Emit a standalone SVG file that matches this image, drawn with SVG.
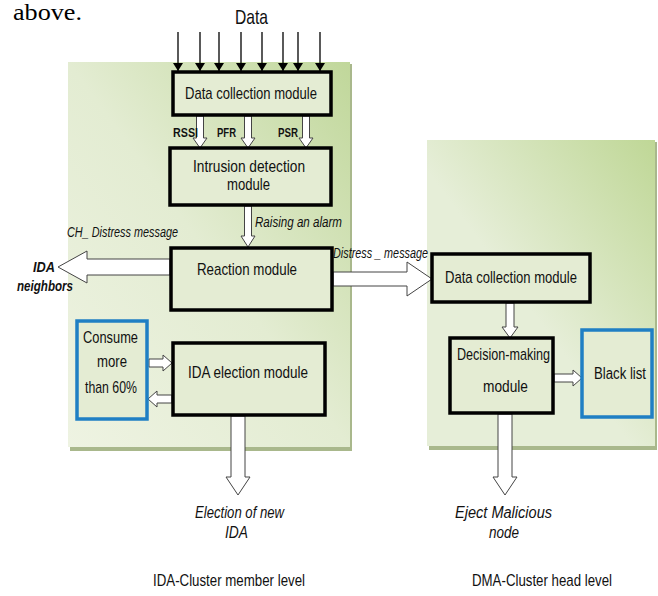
<svg xmlns="http://www.w3.org/2000/svg" width="658" height="596" viewBox="0 0 658 596">
<defs>
<linearGradient id="panelL" x1="0" y1="1" x2="1" y2="0">
<stop offset="0" stop-color="#eef3e2"/>
<stop offset="0.5" stop-color="#e3ecd2"/>
<stop offset="1" stop-color="#c0d79a"/>
</linearGradient>
<linearGradient id="panelR" x1="0" y1="1" x2="1" y2="0">
<stop offset="0" stop-color="#e6eed8"/>
<stop offset="0.45" stop-color="#e6eed8"/>
<stop offset="1" stop-color="#bfd796"/>
</linearGradient>
<marker id="ah" viewBox="0 0 8 10" refX="8" refY="5" markerWidth="8" markerHeight="10" markerUnits="userSpaceOnUse" orient="auto">
<path d="M0,0 L8,5 L0,10 Z" fill="#000"/>
</marker>
</defs>
<style>
.panel-shadow{fill:#a9b88c}
.box{fill:#e4ecd3;stroke:#000;stroke-width:3.5}
.bbox{fill:#e4ecd3;stroke:#1f7fc4;stroke-width:3.5}
.t{font-family:"Liberation Sans",Arial,sans-serif;font-size:17px;fill:#111}
.lab{font-family:"Liberation Sans",Arial,sans-serif;font-size:13px;font-weight:bold;fill:#111}
.it{font-family:"Liberation Sans",Arial,sans-serif;font-size:14px;font-style:italic;fill:#111}
.bi{font-family:"Liberation Sans",Arial,sans-serif;font-size:15px;font-style:italic;font-weight:bold;fill:#111}
.it2{font-family:"Liberation Sans",Arial,sans-serif;font-size:16px;font-style:italic;fill:#111}
.serif{font-family:"Liberation Serif","Times New Roman",serif;font-size:24px;fill:#000}
.hollow{fill:#fff;stroke:#444;stroke-width:1}
.data{stroke:#000;stroke-width:1.3;fill:none}
</style>
<rect width="658" height="596" fill="#fff"/>
<text class="serif" x="13" y="20" textLength="69" lengthAdjust="spacingAndGlyphs">above.</text>

<g id="panel-left">
<rect class="panel-shadow" x="70" y="64" width="282" height="387"/>
<rect x="68" y="62" width="282" height="385" fill="url(#panelL)"/>
</g>
<g id="panel-right">
<rect class="panel-shadow" x="429" y="142" width="228" height="308"/>
<rect x="427" y="140" width="228" height="306" fill="url(#panelR)"/>
</g>

<g id="connectors">
<line class="data" x1="178" y1="32" x2="178" y2="71" marker-end="url(#ah)"/>
<line class="data" x1="200" y1="32" x2="200" y2="71" marker-end="url(#ah)"/>
<line class="data" x1="219" y1="32" x2="219" y2="71" marker-end="url(#ah)"/>
<line class="data" x1="241" y1="32" x2="241" y2="71" marker-end="url(#ah)"/>
<line class="data" x1="262" y1="32" x2="262" y2="71" marker-end="url(#ah)"/>
<line class="data" x1="283" y1="32" x2="283" y2="71" marker-end="url(#ah)"/>
<line class="data" x1="298" y1="32" x2="298" y2="71" marker-end="url(#ah)"/>
<line class="data" x1="320" y1="32" x2="320" y2="71" marker-end="url(#ah)"/>
<path class="hollow" d="M196.5,116 L203.5,116 L203.5,138 L207,138 L200,148 L193,138 L196.5,138 Z"/>
<path class="hollow" d="M244.5,116 L251.5,116 L251.5,138 L255,138 L248,148 L241,138 L244.5,138 Z"/>
<path class="hollow" d="M302.5,116 L309.5,116 L309.5,138 L313,138 L306,148 L299,138 L302.5,138 Z"/>
<path class="hollow" d="M244.5,206 L251.5,206 L251.5,236 L255,236 L248,247 L241,236 L244.5,236 Z"/>
<path class="hollow" d="M170,259 L87,259 L87,251 L58,267 L87,283 L87,275 L170,275 Z"/>
<path class="hollow" d="M333,272 L407,272 L407,262 L432,279 L407,296 L407,286 L333,286 Z"/>
<path class="hollow" d="M149,359 L163,359 L163,355 L172,363 L163,371 L163,367 L149,367 Z"/>
<path class="hollow" d="M172,395 L157,395 L157,391 L148,399 L157,407 L157,403 L172,403 Z"/>
<path class="hollow" d="M231,416 L245,416 L245,477 L250,477 L238,495 L226,477 L231,477 Z"/>
<path class="hollow" d="M506,303 L514,303 L514,327 L518,327 L510,338 L502,327 L506,327 Z"/>
<path class="hollow" d="M554,374 L573,374 L573,370 L582,378 L573,386 L573,382 L554,382 Z"/>
<path class="hollow" d="M498,414 L512,414 L512,477 L517,477 L505,495 L493,477 L498,477 Z"/>
</g>

<text class="t" x="235" y="24" style="font-size:21px" textLength="33" lengthAdjust="spacingAndGlyphs">Data</text>

<g id="dcm-left">
<rect class="box" x="173" y="72" width="158" height="43"/>
<text class="t" x="185" y="99" textLength="132" lengthAdjust="spacingAndGlyphs">Data collection module</text>
</g>
<text class="lab" x="173" y="137" textLength="25" lengthAdjust="spacingAndGlyphs">RSSI</text>
<text class="lab" x="217" y="137" textLength="19" lengthAdjust="spacingAndGlyphs">PFR</text>
<text class="lab" x="278" y="137" textLength="20" lengthAdjust="spacingAndGlyphs">PSR</text>

<g id="intrusion">
<rect class="box" x="170" y="148" width="161" height="57"/>
<text class="t" x="193" y="172" textLength="112" lengthAdjust="spacingAndGlyphs">Intrusion detection</text>
<text class="t" x="227" y="190" textLength="43" lengthAdjust="spacingAndGlyphs">module</text>
</g>
<text class="it" x="255" y="227" textLength="87" lengthAdjust="spacingAndGlyphs">Raising an alarm</text>
<text class="it" x="67" y="237" textLength="111" lengthAdjust="spacingAndGlyphs">CH_ Distress  message</text>

<g id="reaction">
<rect class="box" x="171" y="248" width="161" height="62"/>
<text class="t" x="197" y="275" textLength="100" lengthAdjust="spacingAndGlyphs">Reaction module</text>
</g>
<g id="ida-neighbors">
<text class="bi" x="33" y="272" textLength="22" lengthAdjust="spacingAndGlyphs">IDA</text>
<text class="bi" x="17" y="291" textLength="56" lengthAdjust="spacingAndGlyphs">neighbors</text>
</g>
<text class="it" x="333" y="258" textLength="95" lengthAdjust="spacingAndGlyphs">Distress _ message</text>

<g id="consume">
<rect class="bbox" x="77" y="321" width="70" height="98"/>
<text class="t" x="83" y="343" textLength="55" lengthAdjust="spacingAndGlyphs">Consume</text>
<text class="t" x="97" y="367" textLength="30" lengthAdjust="spacingAndGlyphs">more</text>
<text class="t" x="85" y="393" textLength="52" lengthAdjust="spacingAndGlyphs">than 60%</text>
</g>
<g id="ida-election">
<rect class="box" x="173" y="343" width="152" height="72"/>
<text class="t" x="188" y="378" textLength="120" lengthAdjust="spacingAndGlyphs">IDA election module</text>
</g>
<g id="election-new-ida">
<text class="it2" x="195" y="518" textLength="89" lengthAdjust="spacingAndGlyphs">Election of new</text>
<text class="it2" x="225" y="538" textLength="23" lengthAdjust="spacingAndGlyphs">IDA</text>
</g>

<g id="dcm-right">
<rect class="box" x="432" y="254" width="158" height="48"/>
<text class="t" x="445" y="283" textLength="132" lengthAdjust="spacingAndGlyphs">Data collection module</text>
</g>
<g id="decision">
<rect class="box" x="450" y="338" width="103" height="75"/>
<text class="t" x="457" y="360" textLength="93" lengthAdjust="spacingAndGlyphs">Decision-making</text>
<text class="t" x="483" y="392" textLength="45" lengthAdjust="spacingAndGlyphs">module</text>
</g>
<g id="blacklist">
<rect class="bbox" x="582" y="330" width="70" height="87"/>
<text class="t" x="620" y="379" text-anchor="middle" style="font-size:16px" textLength="52" lengthAdjust="spacingAndGlyphs">Black list</text>
</g>
<g id="eject">
<text class="it2" x="455" y="518" textLength="97" lengthAdjust="spacingAndGlyphs">Eject Malicious</text>
<text class="it2" x="489" y="538" textLength="30" lengthAdjust="spacingAndGlyphs">node</text>
</g>

<text class="t" x="153" y="586" textLength="152" lengthAdjust="spacingAndGlyphs">IDA-Cluster member level</text>
<text class="t" x="472" y="586" textLength="140" lengthAdjust="spacingAndGlyphs">DMA-Cluster head level</text>
</svg>
